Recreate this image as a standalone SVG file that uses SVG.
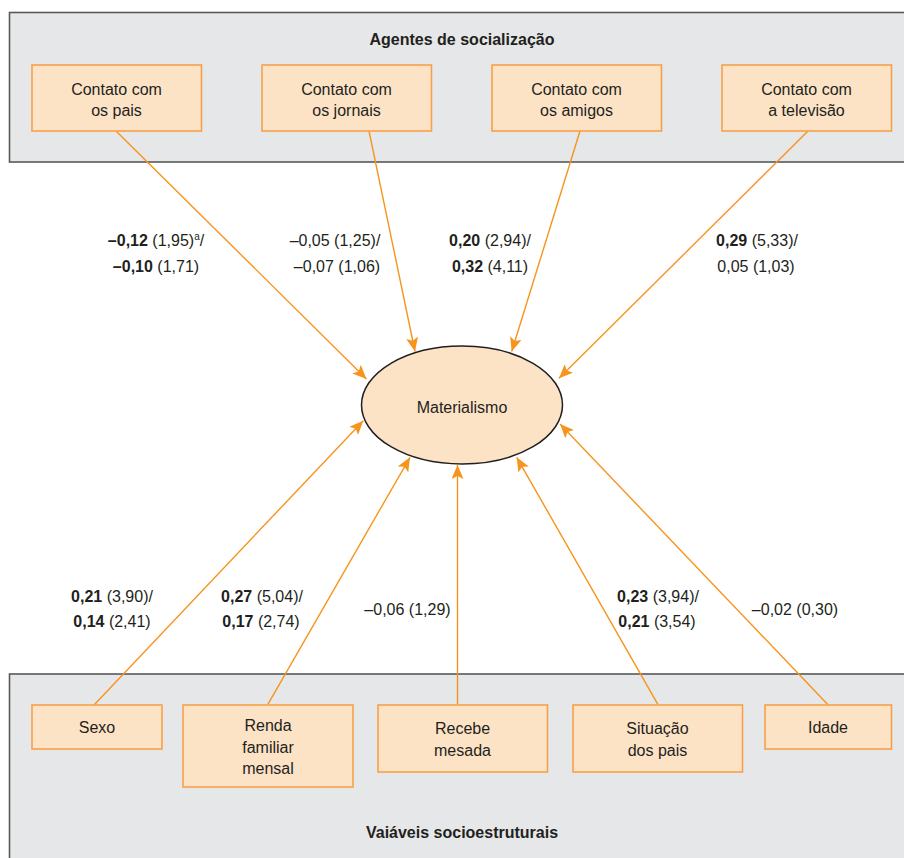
<svg xmlns="http://www.w3.org/2000/svg" width="904" height="858" viewBox="0 0 904 858">
<style>
.panel{fill:#E6E7E8;stroke:#58595B;stroke-width:1.6}
.box{fill:#FDE3C6;stroke:#F7A04A;stroke-width:1.6}
.ell{fill:#FDE3C6;stroke:#231F20;stroke-width:1.5}
.t{font-family:"Liberation Sans",Arial,sans-serif;font-size:16px;fill:#231F20;text-anchor:middle}
.title{font-weight:bold}
.b{font-weight:bold}
.sup{font-size:10px}
.c{stroke:#F7941D;stroke-width:1.4;fill:none;marker-end:url(#ah)}
</style>
<defs>
<marker id="ah" viewBox="0 0 14 12" refX="14" refY="6" markerWidth="14" markerHeight="12" markerUnits="userSpaceOnUse" orient="auto">
<path d="M0,0 L14,6 L0,12 L3,6 z" fill="#F7941D"/>
</marker>
</defs>
<rect width="904" height="858" fill="#FFFFFF"/>
<g id="panel-agentes">
<rect class="panel" x="9.5" y="12.5" width="910" height="149.5"/>
<text class="t title" x="462" y="45">Agentes de socialização</text>
</g>
<g id="panel-variaveis">
<rect class="panel" x="9.5" y="674" width="910" height="200"/>
<text class="t title" x="462" y="838">Vaiáveis socioestruturais</text>
</g>
<g id="connectors">
<line class="c" x1="116" y1="131" x2="366.5" y2="379"/>
<line class="c" x1="369" y1="131" x2="415" y2="351.5"/>
<line class="c" x1="580" y1="131" x2="511.7" y2="351.5"/>
<line class="c" x1="808" y1="131" x2="559" y2="378.3"/>
<line class="c" x1="94.3" y1="704.7" x2="363.3" y2="420.7"/>
<line class="c" x1="267.7" y1="704.7" x2="410" y2="457.3"/>
<line class="c" x1="457.5" y1="704.7" x2="457.5" y2="465"/>
<line class="c" x1="658" y1="704.7" x2="516.7" y2="457.3"/>
<line class="c" x1="828" y1="704.7" x2="560" y2="424"/>
</g>
<g id="labels">
<text class="t" x="156" y="246"><tspan class="b">–0,12</tspan> (1,95)<tspan class="sup" dy="-6">a</tspan><tspan dy="6">/</tspan></text>
<text class="t" x="156" y="271.5"><tspan class="b">–0,10</tspan> (1,71)</text>
<text class="t" x="335" y="246">–0,05 (1,25)/</text>
<text class="t" x="337" y="271.5">–0,07 (1,06)</text>
<text class="t" x="490" y="246"><tspan class="b">0,20</tspan> (2,94)/</text>
<text class="t" x="490" y="271.5"><tspan class="b">0,32</tspan> (4,11)</text>
<text class="t" x="757" y="246"><tspan class="b">0,29</tspan> (5,33)/</text>
<text class="t" x="756" y="271.5">0,05 (1,03)</text>
<text class="t" x="112" y="601.7"><tspan class="b">0,21</tspan> (3,90)/</text>
<text class="t" x="112" y="626.7"><tspan class="b">0,14</tspan> (2,41)</text>
<text class="t" x="262" y="601.7"><tspan class="b">0,27</tspan> (5,04)/</text>
<text class="t" x="261" y="626.7"><tspan class="b">0,17</tspan> (2,74)</text>
<text class="t" x="407.5" y="615">–0,06 (1,29)</text>
<text class="t" x="658" y="601.7"><tspan class="b">0,23</tspan> (3,94)/</text>
<text class="t" x="657" y="626.7"><tspan class="b">0,21</tspan> (3,54)</text>
<text class="t" x="795" y="615">–0,02 (0,30)</text>
</g>
<g id="node-pais">
<rect class="box" x="32" y="65" width="169.5" height="66"/>
<text class="t" x="116.5" y="95">Contato com</text>
<text class="t" x="116.5" y="116">os pais</text>
</g>
<g id="node-jornais">
<rect class="box" x="262" y="65" width="169.5" height="66"/>
<text class="t" x="346.5" y="95">Contato com</text>
<text class="t" x="346.5" y="116">os jornais</text>
</g>
<g id="node-amigos">
<rect class="box" x="492" y="65" width="169.5" height="66"/>
<text class="t" x="576.5" y="95">Contato com</text>
<text class="t" x="576.5" y="116">os amigos</text>
</g>
<g id="node-televisao">
<rect class="box" x="722" y="65" width="169.5" height="66"/>
<text class="t" x="806.5" y="95">Contato com</text>
<text class="t" x="806.5" y="116">a televisão</text>
</g>
<g id="node-materialismo">
<ellipse class="ell" cx="462" cy="405" rx="100.5" ry="59"/>
<text class="t" x="462" y="412.5">Materialismo</text>
</g>
<g id="node-sexo">
<rect class="box" x="32" y="705" width="130" height="44"/>
<text class="t" x="97" y="733">Sexo</text>
</g>
<g id="node-renda">
<rect class="box" x="183" y="705" width="170" height="82"/>
<text class="t" x="268" y="731">Renda</text>
<text class="t" x="268" y="752.7">familiar</text>
<text class="t" x="268" y="774.3">mensal</text>
</g>
<g id="node-mesada">
<rect class="box" x="378" y="705" width="169.5" height="67"/>
<text class="t" x="462.5" y="733.5">Recebe</text>
<text class="t" x="462.5" y="756">mesada</text>
</g>
<g id="node-situacao">
<rect class="box" x="573" y="705" width="169.5" height="67"/>
<text class="t" x="657.5" y="733.5">Situação</text>
<text class="t" x="657.5" y="756">dos pais</text>
</g>
<g id="node-idade">
<rect class="box" x="765" y="705" width="126.5" height="44"/>
<text class="t" x="828" y="733">Idade</text>
</g>
</svg>
